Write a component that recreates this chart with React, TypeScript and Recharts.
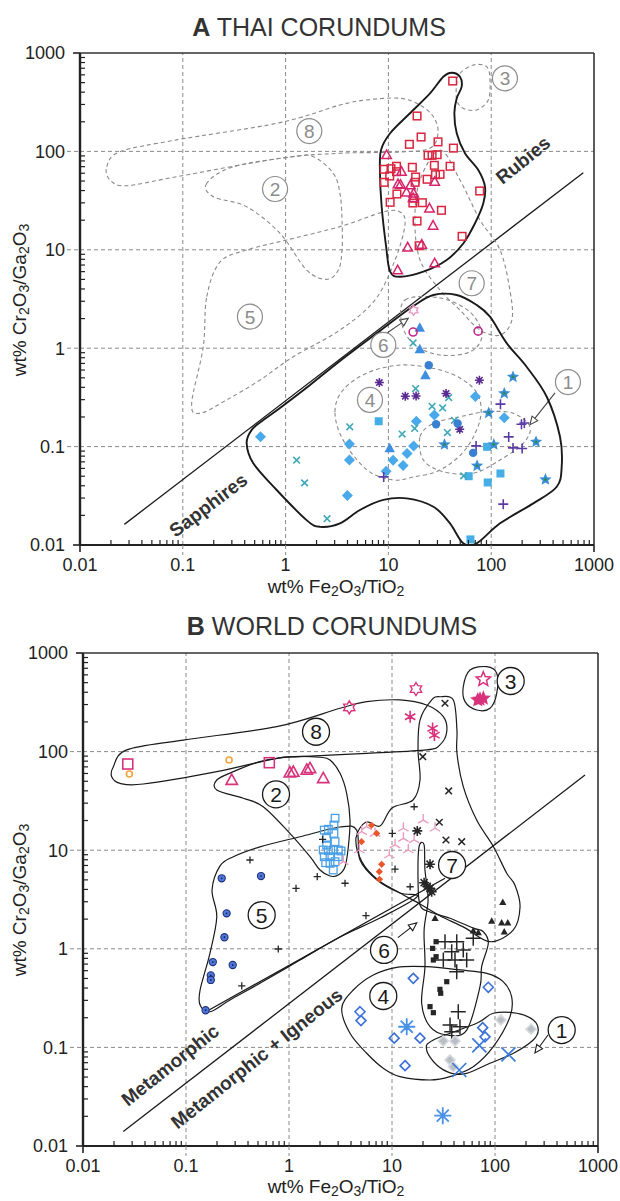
import React from 'react';
import { ScatterChart, Scatter, XAxis, YAxis, ReferenceLine } from 'recharts';

type Pair = [number, number];
type Tag = [number, number, string];

// ---------------- Axis values ----------------
const decades = [0.01, 0.1, 1, 10, 100, 1000];
const gridValues = [0.1, 1, 10, 100];
const minorSteps = [2, 3, 4, 5, 6, 7, 8, 9];

// ---------------- A: THAI CORUNDUMS ----------------
const thaiRubySquares: Pair[] = [
  [42.2, 519], [19.0, 229], [20.8, 140], [30.4, 125], [16.0, 118], [42.9, 108], [24.3, 91.3], [26.6, 91.3],
  [29.8, 92.6], [17.1, 68.9], [28.0, 72.2], [39.8, 70.6], [9.1, 65.8], [10.6, 66.7], [12.0, 70.6], [12.0, 62.2],
  [10.3, 56.2], [9.1, 48.5], [18.4, 54.9], [18.2, 48.5], [23.8, 52.1], [28.7, 58.0], [31.8, 58.5], [12.1, 36.9],
  [17.3, 29.9], [21.4, 30.1], [10.4, 30.4], [17.6, 33.4], [77.3, 39.6], [32.8, 25.2], [19.0, 19.6], [52.1, 13.7],
  [19.9, 11.0],
];
const thaiRubyTriangles: Pair[] = [
  [9.6, 91.9], [13.4, 62.2], [12.4, 46.6], [13.1, 45.9], [16.4, 45.5], [28.2, 49.2], [15.0, 38.4], [17.6, 37.5],
  [17.4, 33.6], [25.1, 26.4], [27.2, 17.6], [15.4, 10.6], [21.1, 11.3], [12.3, 6.2], [28.2, 7.3],
];
const thaiPinkCircles: Pair[] = [[17.4, 1.46], [74.6, 1.49]];
const thaiPinkHexagram: Pair[] = [[17.6, 2.43]];
const thaiBlueTriangles: Pair[] = [[20.2, 1.61], [20.2, 0.977], [22.9, 0.532], [10.3, 0.096]];
const thaiBlueCircles: Pair[] = [[24.7, 0.672], [29.1, 0.169], [47.2, 0.172], [66.7, 0.0863]];
const thaiPurpleAsterisks: Pair[] = [[8.17, 0.448], [14.6, 0.325], [18.6, 0.327], [36.4, 0.347], [76.8, 0.473], [49.4, 0.15]];
const thaiTealCrosses: Pair[] = [
  [17.4, 1.13], [18.4, 0.389], [38.6, 0.315], [26.6, 0.257], [33.7, 0.247], [43.9, 0.185], [18.0, 0.153],
  [37.5, 0.139], [13.6, 0.134], [4.21, 0.159], [1.53, 0.0428], [2.53, 0.0185], [54.0, 0.0504], [1.28, 0.0727],
];
const thaiBlueDiamonds: Pair[] = [
  [4.18, 0.106], [4.18, 0.0732], [3.99, 0.0318], [9.5, 0.0562], [11.1, 0.0727], [13.9, 0.0643], [15.2, 0.0851],
  [17.6, 0.1017], [18.7, 0.181], [28.0, 0.21], [70.2, 0.323], [134, 0.196], [0.57, 0.126],
];
const thaiBlueSquares: Pair[] = [[8.05, 0.181], [60.4, 0.05], [91.2, 0.0995], [123, 0.0533], [92.5, 0.0432], [62.8, 0.0114]];
const thaiStars: Pair[] = [[163, 0.511], [134, 0.347], [94.6, 0.22], [35.1, 0.105], [106, 0.105], [72.9, 0.0637], [273, 0.1116], [337, 0.0463]];
const thaiPurplePlus: Pair[] = [[123, 0.27], [197, 0.169], [210, 0.174], [148, 0.1255], [163, 0.097], [200, 0.0957], [71.3, 0.1017], [9.0, 0.0492], [131, 0.026]];

const thaiRubyField: Pair[] = [
  [41.3, 631], [49.7, 574], [51.6, 455], [46.2, 347], [43.8, 244], [46.2, 153], [55.6, 95.7], [74.9, 64.7],
  [87.0, 43.8], [83.8, 29.7], [69.6, 18.6], [53.5, 11.6], [36.9, 7.88], [21.9, 5.99], [13.0, 5.33], [10.4, 5.99],
  [9.5, 10.8], [8.6, 27.4], [8.28, 59.9], [8.47, 103], [10.4, 153], [16.2, 244], [25.4, 389], [34.2, 574],
];
const thaiSapphireField: Pair[] = [
  [17.5, 2.68], [27.4, 3.47], [46.2, 3.47], [72.3, 2.75], [97.3, 2.09], [142, 1.12], [221, 0.648], [347, 0.321],
  [467, 0.126], [485, 0.0625], [434, 0.0391], [257, 0.0265], [122, 0.0166], [72.3, 0.0104], [53.5, 0.0104],
  [39.7, 0.0166], [27.4, 0.0245], [15.1, 0.0298], [8.92, 0.0287], [5.29, 0.0227], [3.38, 0.0166], [2.16, 0.0153],
  [1.6, 0.0179], [0.819, 0.0362], [0.485, 0.0676], [0.418, 0.108], [0.468, 0.148], [0.607, 0.186], [0.882, 0.247],
  [1.73, 0.423], [3.38, 0.741], [8.28, 1.5],
];
const thaiField8: Pair[] = [
  [0.0182, 69.9], [0.0245, 99.3], [0.0872, 131], [0.882, 196], [3.38, 296], [6.15, 333], [13.0, 347], [20.3, 296],
  [27.4, 225], [30.4, 154], [25.4, 108], [13.0, 98.6], [3.38, 95.7], [0.882, 85.1], [0.0872, 55.3], [0.0284, 44.8], [0.0196, 51.2],
];
const thaiField2: Pair[] = [
  [0.171, 47.4], [0.198, 34.6], [0.418, 27.4], [0.882, 14.7], [1.6, 6.24], [2.51, 5.01], [3.26, 6.24], [3.54, 9.95],
  [3.54, 20.1], [3.38, 37.5], [2.91, 59.9], [1.86, 88.3], [1.19, 88.3], [0.31, 69.9],
];
const thaiField5: Pair[] = [
  [0.171, 3.34], [0.23, 7.51], [0.418, 9.95], [1.025, 12.6], [3.38, 17.2], [8.9, 24.2], [13.0, 24.2], [14.5, 17.9],
  [11.6, 7.88], [7.41, 3.09], [3.38, 1.53], [1.19, 0.82], [0.564, 0.475], [0.267, 0.298], [0.147, 0.218], [0.122, 0.275], [0.158, 1.03],
];
const thaiField3: Pair[] = [[49.7, 622], [67.0, 755], [90.4, 726], [97.3, 532], [93.7, 333], [72.3, 264], [53.5, 274], [46.2, 333], [46.2, 492]];
const thaiField7: Pair[] = [
  [31.8, 103], [49.7, 51.2], [77.8, 20.1], [122, 9.95], [152, 3.9], [159, 1.94], [122, 1.36], [77.8, 1.53],
  [49.7, 2.44], [31.8, 3.9], [20.3, 7.88], [18.1, 20.1], [20.3, 51.2],
];
const thaiField6: Pair[] = [[14.5, 3.09], [31.8, 3.24], [62.2, 2.33], [81.4, 1.36], [62.2, 0.915], [31.8, 0.853], [18.1, 1.08], [13.6, 1.72]];
const thaiField4: Pair[] = [
  [3.02, 0.225], [3.62, 0.376], [6.2, 0.56], [13.0, 0.674], [27.4, 0.623], [49.7, 0.498], [74.4, 0.335], [77.8, 0.186],
  [55.6, 0.0923], [31.8, 0.0578], [17.5, 0.0492], [11.1, 0.0458], [6.2, 0.0578], [3.62, 0.117],
];
const thaiField1: Pair[] = [
  [20.3, 0.126], [27.4, 0.172], [49.7, 0.201], [90.4, 0.226], [164, 0.218], [238, 0.159], [205, 0.108], [122, 0.0731],
  [67.0, 0.0535], [34.2, 0.0556], [21.9, 0.0731],
];
const thaiFieldNumbers: Tag[] = [
  [1.7, 161, '8'], [0.79, 41.5, '2'], [0.45, 2.09, '5'], [136, 553, '3'], [64.6, 4.57, '7'], [8.92, 1.08, '6'], [6.62, 0.298, '4'], [558, 0.453, '1'],
];
const thaiDivider: Pair[] = [[0.027, 0.0162], [787, 60.7]];
const thaiArrow6: Pair[] = [[9.63, 1.42], [15.6, 2.01]];
const thaiArrow1: Pair[] = [[418, 0.351], [238, 0.167]];
const thaiTexts: Tag[] = [[204, 81.8, 'Rubies'], [0.177, 0.0255, 'Sapphires']];

// ---------------- B: WORLD CORUNDUMS ----------------
const worldPinkSquares: Pair[] = [[0.0272, 74.8], [0.644, 77.2]];
const worldOrangeCircles: Pair[] = [[0.0282, 59.3], [0.262, 82.2]];
const worldPinkTriangles: Pair[] = [[0.278, 51.5], [1.02, 61.1], [1.1, 62.1], [1.49, 65.1], [1.6, 67.7], [2.15, 53.6]];
const worldHexagrams: Pair[] = [[3.85, 281], [17.1, 431]];
const worldPinkAsterisks: Pair[] = [[15.0, 226], [24.8, 172], [25.8, 147]];
const worldStarsOpen: Pair[] = [[77.0, 541]];
const worldStarsFilled: Pair[] = [[71.5, 339], [77.0, 347], [68.0, 334]];
const worldBlackX: Pair[] = [[32.7, 309], [19.9, 88.8], [35.5, 39.9], [28.8, 19.2], [33.4, 12.7], [47.5, 12.2]];
const worldBlackPlus: Pair[] = [
  [16.4, 27.6], [10.07, 14.8], [2.12, 12.9], [0.418, 7.95], [1.88, 5.39], [3.5, 4.62], [1.17, 4.11], [10.7, 6.44],
  [15.0, 4.26], [5.59, 2.17], [0.787, 0.995], [0.348, 0.42],
];
const worldBlackAsterisks: Pair[] = [[17.6, 15.7], [23.4, 7.21], [20.5, 4.68], [23.4, 4.11], [24.3, 3.79], [22.0, 4.3]];
const worldBlackTriangles: Pair[] = [[119, 2.96], [26.2, 2.04], [92.9, 1.91], [116, 1.84], [133, 1.84], [123, 1.49], [61.5, 1.52], [68.8, 1.46]];
const worldBigPlus: Pair[] = [
  [32.7, 1.18], [42.5, 1.18], [61.5, 1.28], [38.0, 0.935], [49.2, 0.973], [31.5, 0.77], [40.9, 0.77], [53.1, 0.77],
  [42.5, 0.586], [44.0, 0.23], [36.6, 0.1687], [45.7, 0.162], [38.0, 0.144],
];
const worldBlackSquares: Pair[] = [[26.8, 1.18], [24.8, 1.01], [26.8, 0.832], [25.2, 0.77], [34.0, 0.464], [29.2, 0.388], [29.7, 0.354], [23.4, 0.259], [25.2, 0.225]];
const worldBlueDiamonds: Pair[] = [[16.1, 0.502], [86.1, 0.407], [4.89, 0.23], [5.0, 0.187], [10.5, 0.124], [18.7, 0.124], [13.4, 0.0653], [75.9, 0.1585], [80.0, 0.128]];
const worldBlueAsterisks: Pair[] = [[13.9, 0.162], [31.1, 0.0203]];
const worldBlueCrosses: Pair[] = [[70.4, 0.105], [135, 0.0851], [45.0, 0.059]];
const worldGrayDiamonds: Pair[] = [[114, 0.19], [224, 0.153], [31.5, 0.116], [40.9, 0.116], [36.6, 0.0745], [39.4, 0.0637]];
const worldBlueDots: Pair[] = [[0.222, 5.19], [0.535, 5.47], [0.248, 2.29], [0.236, 1.31], [0.182, 0.734], [0.284, 0.685], [0.174, 0.538], [0.174, 0.483], [0.155, 0.238]];
const worldCyanSquares: Pair[] = [
  [2.8, 21.1], [2.2, 16.0], [2.41, 16.3], [2.73, 14.8], [2.32, 13.2], [2.8, 12.2], [2.15, 10.05], [2.41, 9.89],
  [2.69, 10.05], [3.01, 10.05], [3.2, 9.82], [2.27, 7.47], [2.5, 7.36], [2.8, 7.65], [2.69, 6.3], [2.32, 11.3],
  [2.5, 8.59], [2.2, 8.59], [3.01, 8.59], [2.73, 18.0],
];
const worldPinkTriArms: Pair[] = [
  [5.08, 15.4], [6.84, 14.8], [4.81, 10.05], [12.9, 16.7], [20.1, 20.2], [12.9, 13.2], [14.4, 10.05], [9.42, 8.94],
  [26.2, 16.7], [3.37, 7.65], [5.68, 17.3], [10.7, 11.3], [16.4, 12.7],
];
const worldOrangeDiamonds: Pair[] = [[6.32, 17.9], [7.1, 14.8], [5.06, 12.2], [7.94, 7.19], [7.53, 6.05], [7.56, 5.07]];

const worldField8: Pair[] = [
  [0.0197, 70.3], [0.0266, 104], [0.0941, 131], [0.76, 179], [3.13, 275], [5.68, 321], [11.96, 334], [21.7, 297],
  [31.5, 226], [34.0, 159], [29.2, 117], [21.7, 104], [5.68, 96.1], [1.28, 88.8], [0.76, 85.5], [0.199, 62.6],
  [0.0385, 46.9], [0.0229, 47.7], [0.019, 55.6],
];
const worldField3: Pair[] = [[49.2, 455], [57.2, 672], [83.1, 726], [104, 622], [104, 390], [89.4, 275], [66.4, 264], [51.2, 321]];
const worldField2: Pair[] = [
  [0.199, 51.5], [0.288, 62.6], [0.522, 79.0], [1.1, 88.8], [2.0, 87.6], [2.5, 82.2], [3.13, 60.2], [3.63, 37.8],
  [3.91, 20.2], [3.77, 10.9], [3.5, 6.8], [3.01, 5.6], [2.5, 5.47], [2.0, 6.3], [1.6, 8.59], [1.02, 14.8],
  [0.562, 27.6], [0.36, 33.6], [0.199, 40.8],
];
const worldField5: Pair[] = [
  [0.171, 0.23], [0.137, 0.269], [0.137, 0.382], [0.171, 0.906], [0.199, 2.11], [0.179, 3.95], [0.214, 6.93],
  [0.288, 8.59], [0.522, 10.8], [1.28, 13.7], [3.13, 17.2], [4.54, 16.0], [4.89, 7.95], [7.15, 4.99], [11.96, 3.68],
  [17.5, 3.36], [7.64, 2.05], [3.13, 1.32], [1.28, 0.77], [0.522, 0.447], [0.267, 0.303],
];
const worldField7: Pair[] = [
  [24.3, 334], [29.2, 360], [39.4, 334], [42.7, 166], [42.7, 96.8], [49.2, 44.1], [66.4, 20.2], [96.3, 10.9],
  [130, 5.84], [156, 4.44], [175, 2.66], [150, 1.55], [89.4, 1.18], [51.2, 1.63], [29.2, 2.16], [18.7, 2.85],
  [11.96, 3.68], [7.31, 4.99], [5.11, 7.61], [4.47, 13.3], [5.59, 19.3], [7.64, 17.6], [10.0, 26.8], [16.0, 32.3],
  [18.7, 51.5], [17.9, 104], [18.7, 209],
];
const worldField6: Pair[] = [
  [18.3, 10.8], [20.5, 11.3], [20.9, 6.3], [22.4, 3.13], [20.5, 1.55], [20.9, 0.659], [19.4, 0.28], [23.4, 0.162],
  [34.0, 0.1336], [53.1, 0.15], [71.5, 0.413], [74.2, 0.659], [86.1, 1.14], [77.0, 1.49], [61.5, 1.62], [36.6, 2.04],
  [23.4, 2.36], [18.7, 2.78], [17.9, 4.99],
];
const worldField4: Pair[] = [
  [3.25, 0.249], [4.21, 0.382], [6.58, 0.542], [11.1, 0.649], [21.7, 0.659], [45.7, 0.61], [83.1, 0.564], [120, 0.464],
  [145, 0.327], [140, 0.205], [96.3, 0.1016], [61.5, 0.0637], [36.6, 0.0505], [23.4, 0.0467], [11.96, 0.0505],
  [8.23, 0.0614], [5.68, 0.0872], [3.91, 0.139],
];
const worldField1: Pair[] = [
  [21.7, 0.0942], [25.2, 0.119], [66.4, 0.1755], [96.3, 0.222], [163, 0.222], [235, 0.19], [263, 0.15], [235, 0.119],
  [151, 0.0872], [89.4, 0.069], [53.1, 0.0546], [38.0, 0.0546], [27.2, 0.0663],
];
const worldFieldNumbers: Tag[] = [
  [1.83, 159, '8'], [0.748, 36.9, '2'], [0.543, 2.2, '5'], [142, 520, '3'], [38.3, 7.08, '7'], [8.36, 0.973, '6'], [8.23, 0.332, '4'], [444, 0.15, '1'],
];
const worldDividerUpper: Pair[] = [[0.147, 0.222], [32.7, 5.2]];
const worldDividerLower: Pair[] = [[0.0246, 0.014], [748, 57.9]];
const worldArrow6: Pair[] = [[11.4, 1.3], [17.4, 1.83]];
const worldArrow1: Pair[] = [[327, 0.1336], [244, 0.0877]];
const worldTexts: Tag[] = [[0.07, 0.0663, 'Metamorphic'], [0.485, 0.0775, 'Metamorphic + Igneous']];

// ---------------- helpers ----------------
const FONT = "'Liberation Sans', Arial, Helvetica, sans-serif";
const INK = '#222';
const GRID = '#8a8a8a';

const axisTicks = (() => {
  const out: number[] = [...decades];
  for (let i = 0; i < decades.length - 1; i++) for (const m of minorSteps) out.push(decades[i] * m);
  return out.sort((a, b) => a - b);
})();

const toPts = (a: Pair[]) => a.map(([x, y]) => ({ x, y }));
const toTags = (a: Tag[]) => a.map(([x, y, t]) => ({ x, y, t }));

function closedPath(pts: { x: number; y: number }[]) {
  const n = pts.length;
  if (!n) return '';
  let d = `M${pts[0].x},${pts[0].y}`;
  for (let i = 0; i < n; i++) {
    const p0 = pts[(i - 1 + n) % n], p1 = pts[i], p2 = pts[(i + 1) % n], p3 = pts[(i + 2) % n];
    const c1x = p1.x + (p2.x - p0.x) / 6, c1y = p1.y + (p2.y - p0.y) / 6;
    const c2x = p2.x - (p3.x - p1.x) / 6, c2y = p2.y - (p3.y - p1.y) / 6;
    d += ` C${c1x},${c1y} ${c2x},${c2y} ${p2.x},${p2.y}`;
  }
  return d + 'Z';
}

const Empty = () => <g />;

function starPoints(cx: number, cy: number, n: number, ro: number, ri: number) {
  const pts: string[] = [];
  for (let i = 0; i < n * 2; i++) {
    const r = i % 2 === 0 ? ro : ri;
    const a = -Math.PI / 2 + (i * Math.PI) / n;
    pts.push(`${cx + r * Math.cos(a)},${cy + r * Math.sin(a)}`);
  }
  return pts.join(' ');
}

function rays(cx: number, cy: number, s: number, angles: number[]) {
  return angles
    .map((deg) => {
      const a = (deg * Math.PI) / 180;
      return `M${cx},${cy}L${cx + s * Math.cos(a)},${cy + s * Math.sin(a)}`;
    })
    .join('');
}

function marker(kind: string, color: string, s: number, sw = 1.4) {
  return (props: any) => {
    const { cx, cy } = props;
    if (typeof cx !== 'number' || typeof cy !== 'number' || isNaN(cx) || isNaN(cy)) return <g />;
    switch (kind) {
      case 'sqOpen':
        return <rect x={cx - s} y={cy - s} width={2 * s} height={2 * s} fill="none" stroke={color} strokeWidth={sw} />;
      case 'sqFill':
        return <rect x={cx - s} y={cy - s} width={2 * s} height={2 * s} fill={color} />;
      case 'triOpen':
        return <polygon points={`${cx},${cy - s} ${cx + s * 0.95},${cy + s * 0.72} ${cx - s * 0.95},${cy + s * 0.72}`} fill="none" stroke={color} strokeWidth={sw} />;
      case 'triFill':
        return <polygon points={`${cx},${cy - s} ${cx + s * 0.95},${cy + s * 0.72} ${cx - s * 0.95},${cy + s * 0.72}`} fill={color} />;
      case 'diamond':
        return <polygon points={`${cx},${cy - s} ${cx + s},${cy} ${cx},${cy + s} ${cx - s},${cy}`} fill={color} />;
      case 'diamondOpen':
        return <polygon points={`${cx},${cy - s} ${cx + s},${cy} ${cx},${cy + s} ${cx - s},${cy}`} fill="none" stroke={color} strokeWidth={sw} />;
      case 'grayDiamond':
        return <polygon points={`${cx},${cy - s} ${cx + s},${cy} ${cx},${cy + s} ${cx - s},${cy}`} fill={color} stroke="#d6dade" strokeWidth={1.6} />;
      case 'circleFill':
        return <circle cx={cx} cy={cy} r={s} fill={color} />;
      case 'circleOpen':
        return <circle cx={cx} cy={cy} r={s} fill="none" stroke={color} strokeWidth={sw} />;
      case 'dotRing':
        return (
          <g>
            <circle cx={cx} cy={cy} r={s} fill={color} stroke="#22307a" strokeWidth={1.1} />
            <circle cx={cx} cy={cy} r={0.9} fill="#1a2050" />
          </g>
        );
      case 'plus':
        return <path d={`M${cx - s},${cy}H${cx + s}M${cx},${cy - s}V${cy + s}`} stroke={color} strokeWidth={sw} />;
      case 'cross':
        return <path d={`M${cx - s},${cy - s}L${cx + s},${cy + s}M${cx + s},${cy - s}L${cx - s},${cy + s}`} stroke={color} strokeWidth={sw} />;
      case 'ast8':
        return <path d={rays(cx, cy, s, [0, 45, 90, 135, 180, 225, 270, 315])} stroke={color} strokeWidth={sw} />;
      case 'ast6':
        return <path d={rays(cx, cy, s, [-90, -30, 30, 90, 150, 210])} stroke={color} strokeWidth={sw} />;
      case 'triArm':
        return <path d={rays(cx, cy, s, [-90, 30, 150])} stroke={color} strokeWidth={sw} />;
      case 'star5':
        return <polygon points={starPoints(cx, cy, 5, s, s * 0.45)} fill={color} />;
      case 'star5Open':
        return <polygon points={starPoints(cx, cy, 5, s, s * 0.45)} fill="none" stroke={color} strokeWidth={sw} />;
      case 'starGreen':
        return (
          <g>
            <polygon points={starPoints(cx, cy, 5, s, s * 0.45)} fill={color} />
            <circle cx={cx} cy={cy} r={1.4} fill="#2f8a52" />
          </g>
        );
      case 'hexagram':
        return <polygon points={starPoints(cx, cy, 6, s, s * 0.6)} fill="none" stroke={color} strokeWidth={sw} />;
      default:
        return <circle cx={cx} cy={cy} r={s} fill={color} />;
    }
  };
}

const numberShape = (color: string, r: number, fs: number, sw: number) => (props: any) => {
  const { cx, cy, payload } = props;
  if (typeof cx !== 'number') return <g />;
  return (
    <g>
      <circle cx={cx} cy={cy} r={r} fill="#fff" stroke={color} strokeWidth={sw} />
      <text x={cx} y={cy} dy="0.36em" textAnchor="middle" fontSize={fs} fill={color} fontFamily={FONT}>
        {payload.t}
      </text>
    </g>
  );
};

const textShape = (angle: number, fs: number) => (props: any) => {
  const { cx, cy, payload } = props;
  if (typeof cx !== 'number') return <g />;
  return (
    <text x={cx} y={cy} dy="0.35em" textAnchor="middle" fontSize={fs} fontWeight="bold" fill="#333" fontFamily={FONT} transform={`rotate(${angle} ${cx} ${cy})`}>
      {payload.t}
    </text>
  );
};

const arrowShape = (color: string, sw: number) => (p: any) => {
  const { x1, y1, x2, y2 } = p;
  if ([x1, y1, x2, y2].some((v) => typeof v !== 'number')) return <g />;
  const a = Math.atan2(y2 - y1, x2 - x1);
  const L = 8, W = 3.6;
  const bx = x2 - L * Math.cos(a), by = y2 - L * Math.sin(a);
  const px = -Math.sin(a) * W, py = Math.cos(a) * W;
  return (
    <g>
      <line x1={x1} y1={y1} x2={bx} y2={by} stroke={color} strokeWidth={sw} />
      <polygon points={`${bx + px},${by + py} ${x2},${y2} ${bx - px},${by - py}`} fill="#fff" stroke={color} strokeWidth={sw} />
    </g>
  );
};

const fmt = (v: number) => String(v);

const XTick = (props: any) => {
  const { x, y, payload } = props;
  const v = payload.value;
  if (!decades.includes(v)) return <line x1={x} x2={x} y1={y} y2={y - 5} stroke={INK} strokeWidth={1.2} />;
  const end = v === decades[0] || v === decades[decades.length - 1];
  return (
    <g>
      {end ? (
        <line x1={x} x2={x} y1={y} y2={y + 7} stroke={INK} strokeWidth={1.6} />
      ) : (
        <line x1={x} x2={x} y1={y} y2={y + 10} stroke={GRID} strokeDasharray="4 3" />
      )}
      <text x={x} y={y + 26} textAnchor="middle" fontSize={18} fill={INK} fontFamily={FONT}>
        {fmt(v)}
      </text>
    </g>
  );
};

const YTick = (props: any) => {
  const { x, y, payload } = props;
  const v = payload.value;
  if (!decades.includes(v)) return <line x1={x} x2={x + 5} y1={y} y2={y} stroke={INK} strokeWidth={1.2} />;
  const end = v === decades[0] || v === decades[decades.length - 1];
  return (
    <g>
      {end ? (
        <line x1={x - 7} x2={x} y1={y} y2={y} stroke={INK} strokeWidth={1.6} />
      ) : (
        <line x1={x - 13} x2={x} y1={y} y2={y} stroke={GRID} strokeDasharray="4 3" />
      )}
      <text x={x - 15} y={y} dy="0.35em" textAnchor="end" fontSize={18} fill={INK} fontFamily={FONT}>
        {fmt(v)}
      </text>
    </g>
  );
};

const axes = (yWidth: number) => [
  <XAxis
    key="xa"
    type="number"
    dataKey="x"
    scale="log"
    domain={[0.01, 1000]}
    allowDataOverflow
    ticks={axisTicks}
    interval={0}
    tickSize={0}
    tickMargin={0}
    tickLine={false}
    axisLine={{ stroke: INK, strokeWidth: 2.2 }}
    height={55}
    tick={(p: any) => <XTick {...p} />}
  />,
  <YAxis
    key="ya"
    type="number"
    dataKey="y"
    scale="log"
    domain={[0.01, 1000]}
    allowDataOverflow
    ticks={axisTicks}
    interval={0}
    tickSize={0}
    tickMargin={0}
    tickLine={false}
    axisLine={{ stroke: INK, strokeWidth: 2.4 }}
    width={yWidth}
    tick={(p: any) => <YTick {...p} />}
  />,
];

const frame = () => [
  ...gridValues.map((v) => <ReferenceLine key={'gx' + v} x={v} stroke={GRID} strokeDasharray="4 3" strokeWidth={1} />),
  ...gridValues.map((v) => <ReferenceLine key={'gy' + v} y={v} stroke={GRID} strokeDasharray="4 3" strokeWidth={1} />),
  <ReferenceLine key="top" y={1000} stroke="#333" strokeWidth={1.6} />,
  <ReferenceLine key="right" x={1000} stroke="#333" strokeWidth={1.6} />,
];

const series = (key: string, data: Pair[], shape: any) => (
  <Scatter key={key} data={toPts(data)} shape={shape} isAnimationActive={false} />
);

const outline = (key: string, data: Pair[], color: string, width: number, dash?: string) => (
  <Scatter
    key={key}
    data={toPts(data)}
    fill="none"
    shape={Empty}
    isAnimationActive={false}
    line={(p: any) => <path d={closedPath(p.points || [])} fill="none" stroke={color} strokeWidth={width} strokeDasharray={dash} />}
  />
);

const segment = (key: string, pts: Pair[], color: string, width: number, arrow = false) => (
  <ReferenceLine
    key={key}
    segment={[{ x: pts[0][0], y: pts[0][1] }, { x: pts[1][0], y: pts[1][1] }]}
    stroke={color}
    strokeWidth={width}
    shape={arrow ? arrowShape(color, width) : undefined}
  />
);

const Sub = ({ children }: { children: React.ReactNode }) => (
  <span style={{ fontSize: 14, verticalAlign: '-0.18em', lineHeight: 0 }}>{children}</span>
);

const XTitle = ({ top }: { top: number }) => (
  <div style={{ position: 'absolute', left: 186, top, width: 300, height: 20, textAlign: 'center', fontSize: 19, color: INK, lineHeight: '20px', fontFamily: FONT }}>
    wt% Fe<Sub>2</Sub>O<Sub>3</Sub>/TiO<Sub>2</Sub>
  </div>
);

const YTitle = ({ cy }: { cy: number }) => (
  <div
    style={{
      position: 'absolute', left: 20 - 150, top: cy - 11, width: 300, height: 22, textAlign: 'center', fontSize: 19, color: INK,
      lineHeight: '22px', fontFamily: FONT, transform: 'rotate(-90deg)',
    }}
  >
    wt% Cr<Sub>2</Sub>O<Sub>3</Sub>/Ga<Sub>2</Sub>O<Sub>3</Sub>
  </div>
);

const Title = ({ cx, top, letter, text }: { cx: number; top: number; letter: string; text: string }) => (
  <div style={{ position: 'absolute', left: cx - 200, top, width: 400, textAlign: 'center', fontSize: 25, color: '#333', lineHeight: '28px', fontFamily: FONT }}>
    <b>{letter}</b> {text}
  </div>
);

// colours
const C = {
  ruby: '#d9263f', rubyTri: '#d6236a', lblue: '#4aa9ea', lblueSq: '#45aee6', blueC: '#3b7fd1', blueT: '#3f8fe0',
  purple: '#5a2c91', teal: '#3fa7b8', star: '#3a8ed6', purplePlus: '#5b3ca6', pinkC: '#c1288a', pinkHex: '#e493bf',
  magenta: '#d8327c', orange: '#f3a23a', cyan: '#4aa0e6', pinkTri: '#ea9cc0', orangeDia: '#e8562a', black: '#262626',
  blueDot: '#4f78dc', blueOpen: '#3b6fd6', blueAst: '#4a92e6', blueX: '#3b79dc', gray: '#b8bec5',
};

export default function App() {
  return (
    <div style={{ position: 'absolute', left: 0, top: 0, width: 620, height: 1201, background: '#fff', fontFamily: FONT, overflow: 'hidden' }}>
      <Title cx={319} top={13} letter="A" text="THAI CORUNDUMS" />
      <div style={{ position: 'absolute', left: 0, top: 0 }}>
        <ScatterChart width={620} height={600} margin={{ top: 53, right: 26, bottom: 0, left: 0 }}>
          {axes(80)}
          {frame()}
          {outline('f8', thaiField8, GRID, 1.1, '4 3')}
          {outline('f2', thaiField2, GRID, 1.1, '4 3')}
          {outline('f5', thaiField5, GRID, 1.1, '4 3')}
          {outline('f3', thaiField3, GRID, 1.1, '4 3')}
          {outline('f7', thaiField7, GRID, 1.1, '4 3')}
          {outline('f6', thaiField6, GRID, 1.1, '4 3')}
          {outline('f4', thaiField4, GRID, 1.1, '4 3')}
          {outline('f1', thaiField1, GRID, 1.1, '4 3')}
          {outline('rub', thaiRubyField, '#1a1a1a', 1.9)}
          {outline('sap', thaiSapphireField, '#1a1a1a', 1.9)}
          {segment('div', thaiDivider, '#1a1a1a', 1.3)}
          {segment('ar6', thaiArrow6, '#444', 1.1, true)}
          {segment('ar1', thaiArrow1, '#444', 1.1, true)}
          {series('rs', thaiRubySquares, marker('sqOpen', C.ruby, 3.8, 1.5))}
          {series('rt', thaiRubyTriangles, marker('triOpen', C.rubyTri, 5, 1.5))}
          {series('bd', thaiBlueDiamonds, marker('diamond', C.lblue, 5.5))}
          {series('bs', thaiBlueSquares, marker('sqFill', C.lblueSq, 4))}
          {series('tx', thaiTealCrosses, marker('cross', C.teal, 3.3, 1.6))}
          {series('pa', thaiPurpleAsterisks, marker('ast8', C.purple, 4.5, 1.6))}
          {series('pp', thaiPurplePlus, marker('plus', C.purplePlus, 5, 1.6))}
          {series('st', thaiStars, marker('starGreen', C.star, 6.5))}
          {series('bc', thaiBlueCircles, marker('circleFill', C.blueC, 4.2))}
          {series('bt', thaiBlueTriangles, marker('triFill', C.blueT, 5.5))}
          {series('pc', thaiPinkCircles, marker('circleOpen', C.pinkC, 4, 1.6))}
          {series('ph', thaiPinkHexagram, marker('hexagram', C.pinkHex, 5, 1.3))}
          <Scatter key="nums" data={toTags(thaiFieldNumbers)} shape={numberShape('#8c8c8c', 12.5, 19, 1.2)} isAnimationActive={false} />
          <Scatter key="txt1" data={toTags(thaiTexts.slice(0, 1))} shape={textShape(-39, 19)} isAnimationActive={false} />
          <Scatter key="txt2" data={toTags(thaiTexts.slice(1))} shape={textShape(-37, 19)} isAnimationActive={false} />
        </ScatterChart>
      </div>
      <XTitle top={577} />
      <YTitle cy={300} />

      <Title cx={332} top={612} letter="B" text="WORLD CORUNDUMS" />
      <div style={{ position: 'absolute', left: 0, top: 600 }}>
        <ScatterChart width={620} height={601} margin={{ top: 53, right: 22, bottom: 0, left: 0 }}>
          {axes(83)}
          {frame()}
          {outline('w8', worldField8, '#1a1a1a', 1.2)}
          {outline('w3', worldField3, '#1a1a1a', 1.2)}
          {outline('w2', worldField2, '#1a1a1a', 1.2)}
          {outline('w5', worldField5, '#1a1a1a', 1.2)}
          {outline('w7', worldField7, '#1a1a1a', 1.2)}
          {outline('w6', worldField6, '#1a1a1a', 1.2)}
          {outline('w4', worldField4, '#1a1a1a', 1.2)}
          {outline('w1', worldField1, '#1a1a1a', 1.2)}
          {segment('dl', worldDividerLower, '#1a1a1a', 1.3)}
          {segment('du', worldDividerUpper, '#1a1a1a', 1.3)}
          {segment('wa6', worldArrow6, '#1a1a1a', 1.1, true)}
          {segment('wa1', worldArrow1, '#1a1a1a', 1.1, true)}
          {series('wps', worldPinkSquares, marker('sqOpen', C.magenta, 5, 1.6))}
          {series('woc', worldOrangeCircles, marker('circleOpen', C.orange, 3, 1.6))}
          {series('wpt', worldPinkTriangles, marker('triOpen', C.magenta, 6, 1.6))}
          {series('whx', worldHexagrams, marker('hexagram', C.magenta, 6.5, 1.4))}
          {series('wpa', worldPinkAsterisks, marker('ast6', C.magenta, 6, 1.6))}
          {series('wso', worldStarsOpen, marker('star5Open', C.magenta, 7.5, 1.5))}
          {series('wsf', worldStarsFilled, marker('star5', C.magenta, 8))}
          {series('wcs', worldCyanSquares, marker('sqOpen', C.cyan, 3.8, 1.3))}
          {series('wta', worldPinkTriArms, marker('triArm', C.pinkTri, 6, 1.4))}
          {series('wod', worldOrangeDiamonds, marker('diamond', C.orangeDia, 3.6))}
          {series('wbx', worldBlackX, marker('cross', C.black, 3.3, 1.5))}
          {series('wbp', worldBlackPlus, marker('plus', C.black, 3.6, 1.3))}
          {series('wba', worldBlackAsterisks, marker('ast8', C.black, 5, 1.6))}
          {series('wbt', worldBlackTriangles, marker('triFill', C.black, 3.8))}
          {series('wbs', worldBlackSquares, marker('sqFill', C.black, 2.6))}
          {series('wbg', worldBigPlus, marker('plus', C.black, 7.5, 1.5))}
          {series('wdo', worldBlueDiamonds, marker('diamondOpen', C.blueOpen, 5, 1.6))}
          {series('wgd', worldGrayDiamonds, marker('grayDiamond', C.gray, 5))}
          {series('wbA', worldBlueAsterisks, marker('ast8', C.blueAst, 8.5, 1.8))}
          {series('wbX', worldBlueCrosses, marker('cross', C.blueX, 7, 1.7))}
          {series('wdt', worldBlueDots, marker('dotRing', C.blueDot, 3.6))}
          <Scatter key="wnums" data={toTags(worldFieldNumbers)} shape={numberShape('#1a1a1a', 13.5, 21, 1.3)} isAnimationActive={false} />
          <Scatter key="wtxt" data={toTags(worldTexts)} shape={textShape(-38.5, 19)} isAnimationActive={false} />
        </ScatterChart>
      </div>
      <XTitle top={1177} />
      <YTitle cy={900} />
    </div>
  );
}
